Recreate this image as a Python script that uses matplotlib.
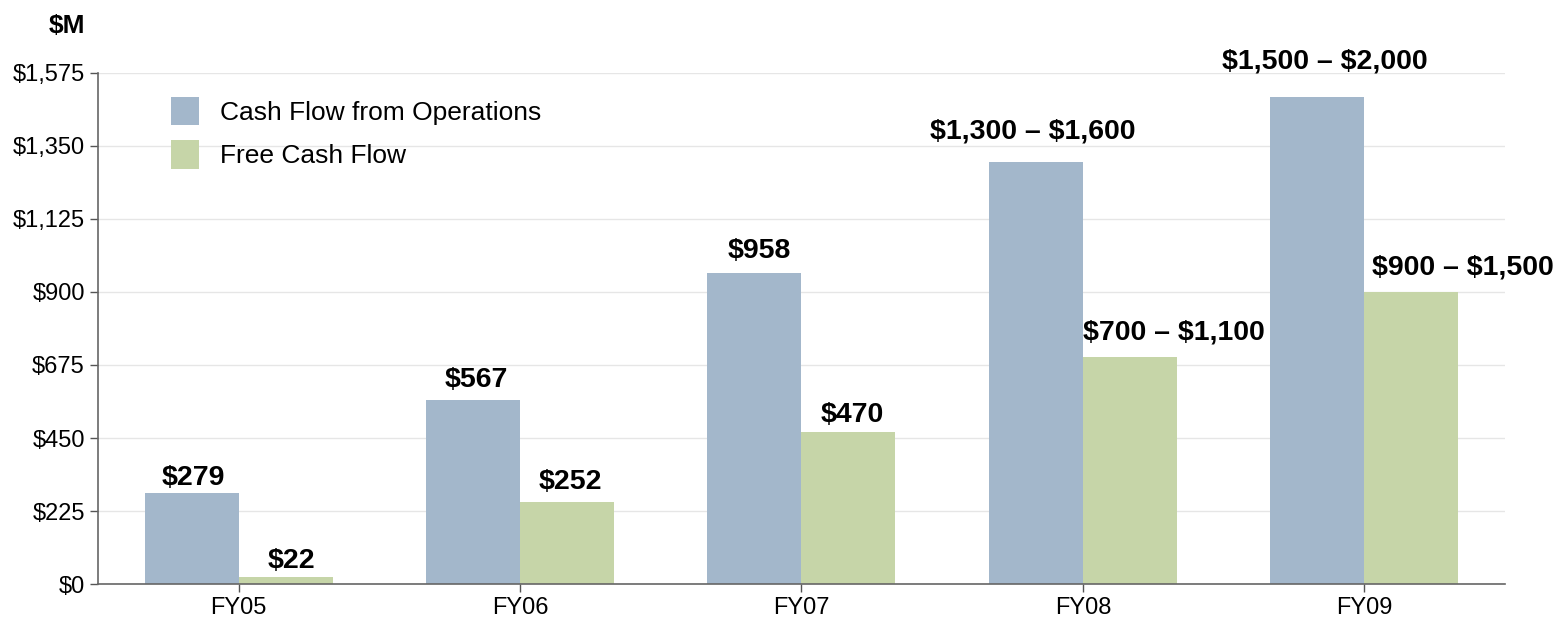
import numpy as np
import matplotlib.pyplot as plt

plt.rcParams['font.family'] = ['Liberation Sans', 'DejaVu Sans']
plt.rcParams['text.parse_math'] = False

years = ['FY05', 'FY06', 'FY07', 'FY08', 'FY09']
cfo = [279, 567, 958, 1300, 1500]
fcf = [22, 252, 470, 700, 900]
cfo_labels = ['$279', '$567', '$958', '$1,300 – $1,600', '$1,500 – $2,000']
fcf_labels = ['$22', '$252', '$470', '$700 – $1,100', '$900 – $1,500']
yticks = [0, 225, 450, 675, 900, 1125, 1350, 1575]

# label nudges in pixels (dx, dy to baseline)
cfo_off = [(2, 8), (3, 13), (5, 15), (-3, 24), (8, 29)]
fcf_off = [(6, 9), (3, 13), (4, 10), (44, 17), (52, 17)]

blue = '#a3b7cb'
green = '#c6d5a8'

fig = plt.figure(figsize=(15.65, 6.29), dpi=100)
ax = fig.add_axes([0.0626, 0.0715, 0.899, 0.8125])

x = np.arange(len(years))
w = 0.334
b1 = ax.bar(x - w / 2, cfo, w, color=blue, label='Cash Flow from Operations', zorder=2)
b2 = ax.bar(x + w / 2, fcf, w, color=green, label='Free Cash Flow', zorder=2)

for bars, labels, offs in [(b1, cfo_labels, cfo_off), (b2, fcf_labels, fcf_off)]:
    for rect, lab, off in zip(bars, labels, offs):
        ax.annotate(lab, (rect.get_x() + rect.get_width() / 2, rect.get_height()),
                    xytext=off, textcoords='offset pixels',
                    ha='center', va='baseline', fontsize=20.5, fontweight='bold')

ax.set_xlim(-0.5, 4.5)
ax.set_ylim(0, 1575)
ax.set_yticks(yticks)
ax.set_yticklabels(['$' + format(v, ',') for v in yticks], fontsize=17)
ax.set_xticks(x)
ax.set_xticklabels(years, fontsize=17)
ax.tick_params(axis='both', length=6, color='#555555', width=1)
ax.yaxis.grid(True, color='#e6e6e6', linewidth=1, zorder=0)
ax.set_axisbelow(True)
for s in ['top', 'right']:
    ax.spines[s].set_visible(False)
for s in ['left', 'bottom']:
    ax.spines[s].set_color('#666666')
    ax.spines[s].set_linewidth(1.2)

fig.text(0.0425, 0.958, '$M', fontsize=19, fontweight='bold', ha='center', va='center')

ax.legend(loc='upper left', bbox_to_anchor=(0.035, 1.0), frameon=False, fontsize=19,
          handlelength=1.05, handleheight=1.3, handletextpad=0.8, labelspacing=0.55)

plt.savefig('out.png', dpi=100)
